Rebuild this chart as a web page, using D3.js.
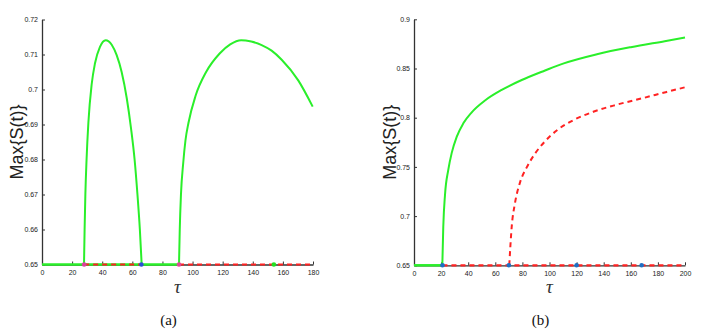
<!DOCTYPE html>
<head>
    <meta charset="utf-8">
    <style type="text/css">
        body { margin: 0; background: #fff; }
        svg { display: block; }
        .tick text { font-family: "Liberation Sans", Arial, sans-serif; font-size: 7px; fill: #222; }
        .domain, .tick line { stroke: #333; }
    </style>
    <title>Max S(t) vs tau</title>
</head>
<body>
    <script src="https://d3js.org/d3.v7.min.js"></script>
    <div id="chart"></div>
    <script>
        // panel (a) data
        var xTicksA = [0, 20, 40, 60, 80, 100, 120, 140, 160, 180];
        var yTicksA = [0.65, 0.66, 0.67, 0.68, 0.69, 0.70, 0.71, 0.72];
        var yLabelsA = ["0.65", "0.66", "0.67", "0.68", "0.69", "0.7", "0.71", "0.72"];
        var branchA1 = [[27.9, 0.650], [28.3, 0.660], [28.8, 0.670], [29.6, 0.680], [30.8, 0.6905],
            [33.0, 0.7015], [35.2, 0.7075], [38.5, 0.7122], [42.3, 0.7141], [46.3, 0.7128],
            [49.6, 0.7098], [52.9, 0.7050], [56.3, 0.6975], [59.1, 0.6890], [61.5, 0.6800],
            [63.4, 0.6700], [65.0, 0.6600], [66.2, 0.650]];
        var branchA2 = [[91.0, 0.650], [91.5, 0.660], [92.3, 0.670], [93.8, 0.679], [95.3, 0.6855],
            [97.3, 0.6905], [102.0, 0.6982], [109.0, 0.7050], [118.0, 0.7103], [125.0, 0.7129],
            [132.3, 0.7141], [139.0, 0.7137], [145.9, 0.7127], [152.5, 0.7111], [159.2, 0.7085],
            [170.2, 0.7026], [179.8, 0.6951]];
        var stableA = [[0, 91]];
        var unstableA = [[28, 66], [91, 180]];
        var pointsA = [[28, "#d9409e"], [66, "#2a4fd6"], [91, "#e0449a"], [154, "#22e022"]];

        // panel (b) data
        var xTicksB = [0, 20, 40, 60, 80, 100, 120, 140, 160, 180, 200];
        var yTicksB = [0.65, 0.70, 0.75, 0.80, 0.85, 0.90];
        var yLabelsB = ["0.65", "0.7", "0.75", "0.8", "0.85", "0.9"];
        var branchB1 = [[20.9, 0.650], [21.6, 0.689], [22.9, 0.722], [25.3, 0.747], [27.8, 0.764],
            [31.5, 0.7805], [36.4, 0.7943], [42.6, 0.8055], [52.4, 0.8175], [64.7, 0.8282],
            [79.5, 0.8383], [96.7, 0.8480], [110.0, 0.8550], [135.0, 0.8645], [160.0, 0.8717],
            [185.0, 0.8778], [200.0, 0.8815]];
        var branchB2 = [[70.3, 0.650], [72.1, 0.689], [74.5, 0.713], [78.2, 0.7340], [83.2, 0.7495],
            [89.3, 0.7635], [96.7, 0.7760], [105.3, 0.7870], [117.6, 0.7975], [132.3, 0.8060],
            [149.6, 0.8132], [169.2, 0.8200], [186.5, 0.8262], [200.0, 0.8309]];
        var stableB = [[0, 21]];
        var unstableB = [[21, 200]];
        var pointsB = [[21, "#1f6fc4"], [70, "#1f6fc4"], [120, "#1f6fc4"], [168, "#1f6fc4"]];

        var green = "#2aef2a", red = "#ff2222";

        var svg = d3.select("#chart").append("svg")
            .attr("width", 704)
            .attr("height", 332);

        function panel(opt) {
            var x = d3.scaleLinear().domain(opt.xDomain).range([opt.left, opt.right]);
            var y = d3.scaleLinear().domain(opt.yDomain).range([opt.bottom, opt.top]);
            var g = svg.append("g");

            // axes, ticks point inward
            g.append("g")
                .attr("transform", "translate(0," + opt.bottom + ")")
                .call(d3.axisBottom(x).tickValues(opt.xTicks).tickSize(-3).tickSizeOuter(0).tickPadding(6))
                .call(a => a.select(".domain").attr("stroke-width", 1.3));
            g.append("g")
                .attr("transform", "translate(" + opt.left + ",0)")
                .call(d3.axisLeft(y).tickValues(opt.yTicks).tickSize(-3).tickSizeOuter(0).tickPadding(4)
                    .tickFormat((d, i) => opt.yLabels[i]))
                .call(a => a.select(".domain").attr("stroke-width", 1.3));

            var base = opt.yDomain[0];
            // stable equilibrium segment
            opt.stable.forEach(s => {
                g.append("line")
                    .attr("x1", x(s[0])).attr("x2", x(s[1]))
                    .attr("y1", y(base)).attr("y2", y(base))
                    .attr("stroke", green).attr("stroke-width", 2.5);
            });
            // unstable equilibrium segments
            opt.unstable.forEach(s => {
                g.append("line")
                    .attr("x1", x(s[0])).attr("x2", x(s[1]))
                    .attr("y1", y(base)).attr("y2", y(base))
                    .attr("stroke", red).attr("stroke-width", 2.2)
                    .attr("stroke-dasharray", "5,4");
            });

            var line = d3.line()
                .x(d => x(d[0]))
                .y(d => y(d[1]))
                .curve(d3.curveMonotoneX);

            opt.curves.forEach(c => {
                g.append("path")
                    .datum(c.data)
                    .attr("d", line)
                    .attr("fill", "none")
                    .attr("stroke", c.color)
                    .attr("stroke-width", 2)
                    .attr("stroke-dasharray", c.dash || null);
            });

            g.selectAll(".pt")
                .data(opt.points)
                .enter().append("circle")
                .attr("cx", d => x(d[0]))
                .attr("cy", y(base))
                .attr("r", 2.3)
                .attr("fill", d => d[1]);

            // labels
            var cx = (opt.left + opt.right) / 2;
            g.append("text")
                .attr("transform", "translate(" + opt.yLabelX + "," + (opt.top + opt.bottom) / 2 + ") rotate(-90)")
                .attr("text-anchor", "middle")
                .attr("dy", "0.35em")
                .style("font-family", "'Liberation Sans', Arial, sans-serif")
                .style("font-size", "18px")
                .attr("fill", "#222")
                .text("Max{S(t)}");
            g.append("text")
                .attr("x", cx)
                .attr("y", 293)
                .attr("text-anchor", "middle")
                .style("font-family", "'Liberation Serif', 'DejaVu Serif', serif")
                .style("font-style", "italic")
                .style("font-size", "19px")
                .attr("fill", "#333")
                .text("τ");
            g.append("text")
                .attr("x", cx - 9)
                .attr("y", 325)
                .attr("text-anchor", "middle")
                .style("font-family", "'Liberation Serif', 'DejaVu Serif', serif")
                .style("font-size", "15px")
                .attr("fill", "#111")
                .text(opt.caption);
        }

        panel({
            left: 42, right: 313, top: 19.5, bottom: 264.5,
            xDomain: [0, 180], yDomain: [0.65, 0.72],
            xTicks: xTicksA, yTicks: yTicksA, yLabels: yLabelsA,
            stable: stableA, unstable: unstableA, points: pointsA,
            curves: [{ data: branchA1, color: green }, { data: branchA2, color: green }],
            yLabelX: 17, caption: "(a)"
        });

        panel({
            left: 414, right: 685, top: 19.3, bottom: 265.3,
            xDomain: [0, 200], yDomain: [0.65, 0.9],
            xTicks: xTicksB, yTicks: yTicksB, yLabels: yLabelsB,
            stable: stableB, unstable: unstableB, points: pointsB,
            curves: [{ data: branchB1, color: green }, { data: branchB2, color: red, dash: "5,4" }],
            yLabelX: 390, caption: "(b)"
        });
    </script>
</body>
